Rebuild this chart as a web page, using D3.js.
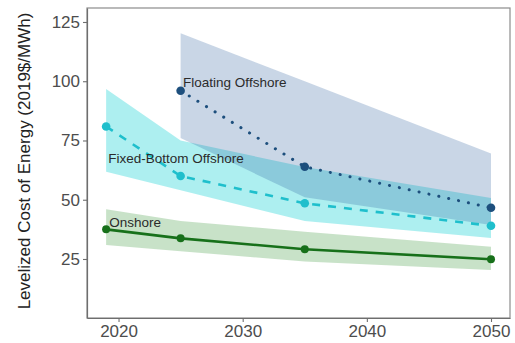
<!DOCTYPE html>
<html>
<head>
<meta charset="utf-8">
<script src="https://cdn.jsdelivr.net/npm/d3@7"></script>
<style>
  body { margin: 0; background: #fff; }
  text { font-family: "Liberation Sans", Arial, sans-serif; }
</style>
</head>
<body>
<div id="container"></div>
<script>
// data
var onshoreYears = [2019, 2025, 2035, 2050],
    onshoreMid = [37.5, 33.7, 29.1, 24.9],
    onshoreLow = [30.9, 28.3, 23.9, 20.4],
    onshoreHigh = [46, 41, 36.5, 30.2];

var fixedYears = [2019, 2025, 2035, 2050],
    fixedMid = [80.9, 60, 48.5, 39],
    fixedLow = [61.8, 54, 41, 33.9],
    fixedHigh = [96.7, 75, 63.8, 50.7];

var floatYears = [2025, 2035, 2050],
    floatMid = [96, 63.9, 46.6],
    floatLow = [76, 51, 39.3],
    floatHigh = [120.2, 100, 69.5];

var yTicks = [25, 50, 75, 100, 125],
    xTicks = [2020, 2030, 2040, 2050];

var labels = ["Floating Offshore", "Fixed-Bottom Offshore", "Onshore"],
    labelX = [2025.2, 2019.17, 2019.25],
    labelY = [97.6, 65.5, 38.5];

// General Settings
var W = 515, H = 343,
    margin = {top: 8, right: 5, bottom: 25, left: 87},
    w = W - margin.left - margin.right,
    h = H - margin.top - margin.bottom,
    col = {
        float: {band: "#275b9b", line: "#1d4f7d"},
        fixed: {band: "#00ced1", line: "#1fbfcc"},
        onshore: {band: "#228b22", line: "#17701a"}
    };

var svg = d3.select("#container")
    .append("svg")
    .attr("width", W)
    .attr("height", H)
    .append("g")
        .attr("transform", "translate(" + margin.left + "," + margin.top + ")");

var x = d3.scaleLinear().domain([2017.46, 2051.53]).range([0, w]);
var y = d3.scaleLinear().domain([0.1, 130.9]).range([h, 0]);

function series(years, mid, low, high) {
    return years.map(function(d, i) {
        return {year: d, mid: mid[i], low: low[i], high: high[i]};
    });
}

var onshore = series(onshoreYears, onshoreMid, onshoreLow, onshoreHigh),
    fixed = series(fixedYears, fixedMid, fixedLow, fixedHigh),
    floating = series(floatYears, floatMid, floatLow, floatHigh);

var area = d3.area()
    .x(function(d) { return x(d.year); })
    .y0(function(d) { return y(d.low); })
    .y1(function(d) { return y(d.high); });

var line = d3.line()
    .x(function(d) { return x(d.year); })
    .y(function(d) { return y(d.mid); });

// ribbons
svg.append("path").datum(onshore)
    .attr("d", area).attr("fill", col.onshore.band).attr("fill-opacity", 0.25);
svg.append("path").datum(fixed)
    .attr("d", area).attr("fill", col.fixed.band).attr("fill-opacity", 0.32);
svg.append("path").datum(floating)
    .attr("d", area).attr("fill", col.float.band).attr("fill-opacity", 0.25);

// lines
svg.append("path").datum(onshore)
    .attr("d", line).attr("fill", "none")
    .attr("stroke", col.onshore.line).attr("stroke-width", 2.6);
svg.append("path").datum(fixed)
    .attr("d", line).attr("fill", "none")
    .attr("stroke", col.fixed.line).attr("stroke-width", 2.6)
    .attr("stroke-dasharray", "8,8");
svg.append("path").datum(floating)
    .attr("d", line).attr("fill", "none")
    .attr("stroke", col.float.line).attr("stroke-width", 3)
    .attr("stroke-linecap", "round")
    .attr("stroke-dasharray", "0.1,10");

// points
[[onshore, col.onshore.line, 4], [fixed, col.fixed.line, 4.3], [floating, col.float.line, 4.3]].forEach(function(s) {
    svg.selectAll()
        .data(s[0])
        .enter()
        .append("circle")
            .attr("cx", function(d) { return x(d.year); })
            .attr("cy", function(d) { return y(d.mid); })
            .attr("r", s[2])
            .attr("fill", s[1]);
});

// annotations
svg.selectAll()
    .data(labels)
    .enter()
    .append("text")
        .attr("x", function(d, i) { return x(labelX[i]); })
        .attr("y", function(d, i) { return y(labelY[i]); })
        .attr("font-size", "13.5px")
        .attr("fill", "#2b2b2b")
        .text(function(d) { return d; });

// panel border
svg.append("rect")
    .attr("x", 0).attr("y", 0)
    .attr("width", w).attr("height", h)
    .attr("fill", "none")
    .attr("stroke", "#8c8c8c")
    .attr("stroke-width", 1.2);

// axes
var xAxis = svg.append("g")
    .attr("transform", "translate(0," + h + ")")
    .call(d3.axisBottom(x).tickValues(xTicks).tickFormat(d3.format("d"))
        .tickSizeInner(4).tickSizeOuter(0).tickPadding(3));
var yAxis = svg.append("g")
    .call(d3.axisLeft(y).tickValues(yTicks)
        .tickSizeInner(4).tickSizeOuter(0).tickPadding(3));

[xAxis, yAxis].forEach(function(a) {
    a.select(".domain").attr("stroke", "#6e6e6e").attr("stroke-width", 1.2);
    a.selectAll(".tick line").attr("stroke", "#6e6e6e").attr("stroke-width", 1.1);
    a.selectAll(".tick text")
        .attr("font-size", "17px")
        .attr("font-family", "Liberation Sans, Arial, sans-serif")
        .attr("fill", "#4d4d4d");
});

// Y label
svg.append("text")
    .attr("transform", "rotate(-90)")
    .attr("x", -h / 2 + 2)
    .attr("y", -margin.left + 30)
    .attr("text-anchor", "middle")
    .attr("font-size", "17px")
    .attr("fill", "#222")
    .text("Levelized Cost of Energy (2019$/MWh)");
</script>
</body>
</html>
